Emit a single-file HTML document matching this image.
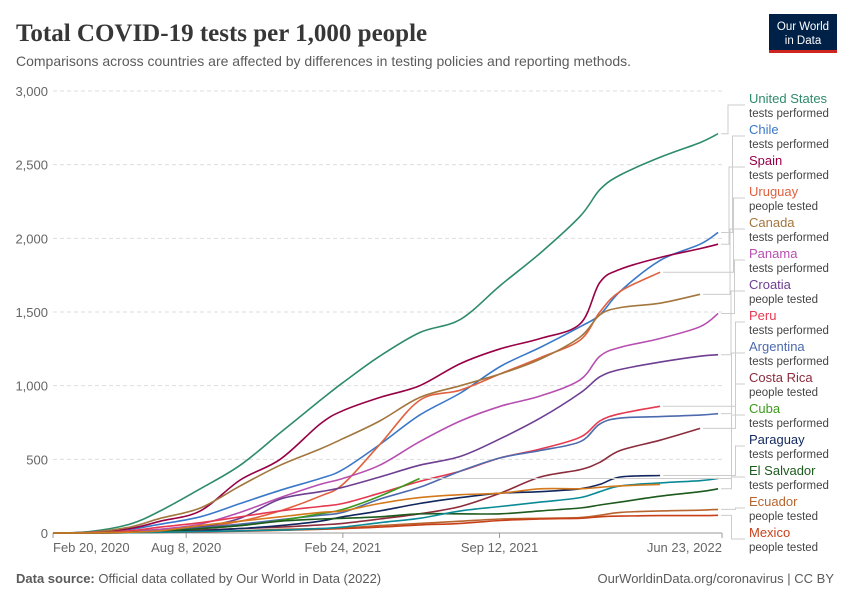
<!DOCTYPE html>
<html><head><meta charset="utf-8"><style>
body{margin:0;background:#fff;width:850px;height:600px;overflow:hidden;font-family:"Liberation Sans",sans-serif}
</style></head><body>
<svg id="chart" width="850" height="600" xmlns="http://www.w3.org/2000/svg">
<text x="16" y="41" font-family="Liberation Serif,serif" font-size="25" font-weight="bold" fill="#373737">Total COVID-19 tests per 1,000 people</text>
<text x="16" y="66" font-size="14" fill="#5b5b5b">Comparisons across countries are affected by differences in testing policies and reporting methods.</text>
<g>
<rect x="769" y="14" width="68" height="38" fill="#002147"/>
<rect x="769" y="50" width="68" height="3" fill="#ce261e"/>
<text x="803" y="30" text-anchor="middle" font-size="11.5" fill="#fff">Our World</text>
<text x="803" y="44" text-anchor="middle" font-size="11.5" fill="#fff">in Data</text>
</g>
<g id="grid"></g><g id="series"></g><g id="legend"></g>
<text x="16" y="583" font-size="13" fill="#5b5b5b"><tspan font-weight="bold">Data source:</tspan> Official data collated by Our World in Data (2022)</text>
<text x="834" y="583" text-anchor="end" font-size="13" fill="#5b5b5b">OurWorldinData.org/coronavirus | CC BY</text>
</svg>
<script>
const days=[0,47,98,137,188,239,290,341,370,417,468,520,571,622,673,698,724,775,826,849];
const yTicks=[0,500,1000,1500,2000,2500,3000];
const yTickLabels=["0","500","1,000","1,500","2,000","2,500","3,000"];
const xTicks=[0,170,370,570,854];
const xTickLabels=["Feb 20, 2020","Aug 8, 2020","Feb 24, 2021","Sep 12, 2021","Jun 23, 2022"];
const names=["United States","Chile","Spain","Uruguay","Canada","Panama","Croatia","Peru","Argentina","Costa Rica","Cuba","Paraguay","El Salvador","Ecuador","Mexico","Other A","Other B"];
const metrics=["tests performed","tests performed","tests performed","people tested","tests performed","tests performed","people tested","tests performed","tests performed","people tested","tests performed","tests performed","tests performed","people tested","people tested","",""];
const colors=["#2e8b6b","#3a78c9","#970046","#e0603f","#a2763d","#b64fb0","#6d3e91","#e63950","#4c6aad","#8c2c3c","#3b9a1c","#12275e","#1d5a1d","#b8642e","#c8401a","#0a8a96","#d4781c"];
const vUS=[0,10,60,150,300,460,680,900,1020,1200,1360,1450,1680,1900,2150,2330,2430,2550,2650,2710];
const vChile=[0,5,25,60,110,200,290,370,430,600,800,950,1130,1260,1400,1480,1640,1850,1960,2040];
const vSpain=[0,5,30,80,150,360,500,740,830,920,1000,1150,1250,1320,1420,1700,1790,1870,1930,1960];
const vUruguay=[0,2,10,25,40,80,150,250,330,600,900,970,1080,1190,1310,1500,1640,1770,null,null];
const vCanada=[0,5,40,100,170,320,460,570,640,760,920,1000,1080,1180,1330,1480,1530,1560,1620,null];
const vPanama=[0,2,10,25,60,140,240,330,370,460,620,760,860,930,1040,1200,1260,1320,1400,1490];
const vCroatia=[0,1,5,15,40,100,230,280,310,380,460,520,640,780,950,1060,1110,1160,1200,1210];
const vPeru=[0,2,15,40,70,110,150,180,200,270,350,420,510,570,650,760,810,860,null,null];
const vArgentina=[0,1,5,15,35,60,90,120,140,230,310,420,510,560,620,740,780,790,800,810];
const vCostaRica=[0,1,5,10,20,30,40,55,65,95,130,180,270,380,430,480,560,630,710,null];
const vCuba=[0,1,5,10,30,50,85,130,160,250,370,null,null,null,null,null,null,null,null,null];
const vParaguay=[0,1,3,8,15,30,50,80,110,150,200,240,270,280,300,330,380,390,null,null];
const vElSalvador=[0,1,5,10,30,50,80,95,100,110,130,130,130,150,170,190,210,250,280,300];
const vEcuador=[0,0,2,5,10,15,25,30,35,50,65,80,95,100,105,120,140,150,155,160];
const vMexico=[0,0,2,4,8,12,18,25,30,40,55,65,85,95,100,110,115,118,118,120];
const vOtherA=[0,0,2,5,10,15,20,30,40,70,100,150,180,210,240,280,320,340,355,370];
const vOtherB=[0,1,5,15,50,80,110,140,150,200,240,260,270,300,300,310,320,330,null,null];
const allV=[vUS,vChile,vSpain,vUruguay,vCanada,vPanama,vCroatia,vPeru,vArgentina,vCostaRica,vCuba,vParaguay,vElSalvador,vEcuador,vMexico,vOtherA,vOtherB];

const NS="http://www.w3.org/2000/svg";
const X0=53,X1=722,Y0=533,Y1=91;
const xs=d=>X0+d/854*(X1-X0);
const ys=v=>Y0-v/3000*(Y0-Y1);
function mk(tag,attrs,parent){const e=document.createElementNS(NS,tag);for(const k in attrs)e.setAttribute(k,attrs[k]);parent.appendChild(e);return e;}
const grid=document.getElementById('grid');
yTicks.forEach((t,i)=>{
  const l=mk('line',{x1:X0,x2:X1,y1:ys(t),y2:ys(t),stroke:i==0?'#999':'#ddd','stroke-dasharray':i==0?'':'4,3'},grid);
  
  
  const tx=mk('text',{x:48,y:ys(t)+5,'text-anchor':'end','font-size':13,fill:'#666'},grid);
  tx.textContent=yTickLabels[i];
  
  
});
xTicks.forEach((t,i)=>{
  const l=mk('line',{x1:xs(t),x2:xs(t),y1:Y0,y2:Y0+5,stroke:'#999'},grid);
  
  
  const anchor=i==0?'start':(i==xTicks.length-1?'end':'middle');
  const tx=mk('text',{x:xs(t),y:552,'text-anchor':anchor,'font-size':13,fill:'#666'},grid);
  tx.textContent=xTickLabels[i];
  
  
});
const sg=document.getElementById('series');
const ends=[];
allV.forEach((vals,si)=>{
  const pts=[];
  vals.forEach((v,i)=>{if(v!=null)pts.push([xs(days[i]),ys(v)]);});
  let d='M'+pts[0][0].toFixed(1)+','+pts[0][1].toFixed(1);
  for(let i=0;i<pts.length-1;i++){
    const p0=pts[Math.max(0,i-1)],p1=pts[i],p2=pts[i+1],p3=pts[Math.min(pts.length-1,i+2)];
    const c1=[p1[0]+(p2[0]-p0[0])/6,p1[1]+(p2[1]-p0[1])/6];
    const c2=[p2[0]-(p3[0]-p1[0])/6,p2[1]-(p3[1]-p1[1])/6];
    d+=`C${c1[0].toFixed(1)},${c1[1].toFixed(1)} ${c2[0].toFixed(1)},${c2[1].toFixed(1)} ${p2[0].toFixed(1)},${p2[1].toFixed(1)}`;
  }
  const p=mk('path',{d:d,fill:'none',stroke:colors[si],'stroke-width':1.6,'stroke-linejoin':'round'},sg);
  
  
  ends.push(pts[pts.length-1]);
});
const lg=document.getElementById('legend');
for(let i=0;i<15;i++){
  const ly=98+i*31;
  const ey=ends[i][1];
  const cx=728+(i%2)*4+Math.min(i,7)*0.5;
  const c=mk('path',{d:`M${ends[i][0]+3},${ey}H${cx}V${ly+7}H745`,fill:'none',stroke:'#ccc','stroke-width':1},lg);
  
  
  const t=mk('text',{x:749,y:ly+5,'font-size':13,fill:colors[i]},lg);
  t.textContent=names[i];
  
  
  const m=mk('text',{x:749,y:ly+19,'font-size':11.5,fill:'#444'},lg);
  m.textContent=metrics[i];
  
  
}
</script>
</body></html>
